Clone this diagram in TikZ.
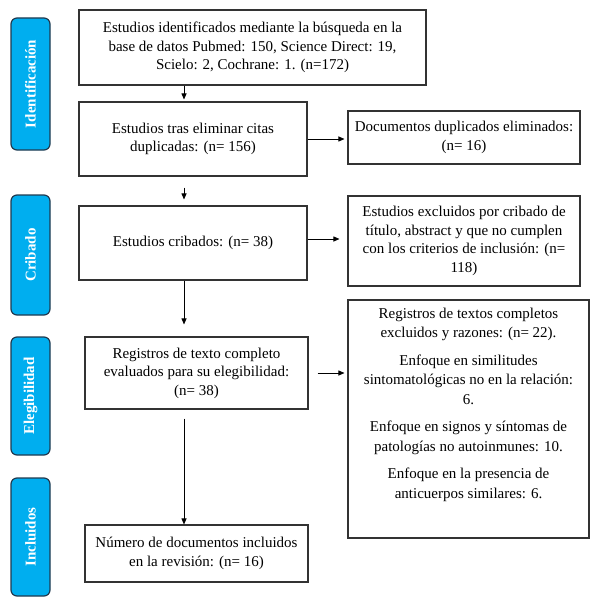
\documentclass[tikz,border=0pt]{standalone}
\usepackage{fontspec}
\setmainfont{Liberation Serif}
\usetikzlibrary{arrows.meta}
\definecolor{stagefill}{HTML}{00AEEF}
\definecolor{stageline}{HTML}{1F3A50}

\begin{document}
\begin{tikzpicture}[x=1pt, y=-1pt,
  every node/.style={font=\fontsize{15}{18.5}\selectfont, align=center, inner sep=0pt},
  box/.style={draw=black!80, line width=1.1pt},
  stage/.style={draw=stageline, fill=stagefill, rounded corners=6pt, line width=1.2pt,
    rotate=90, minimum height=39pt, text=white, font=\fontsize{15}{18}\selectfont\bfseries},
  flow/.style={-{Triangle[length=6pt,width=5pt]}, line width=0.9pt}]
  \useasboundingbox (0,0) rectangle (609,604);
  \node[stage, minimum width=132] (ident) at (30.5,84) {Identificación};
  \node[stage, minimum width=120] (crib) at (30.5,255) {Cribado};
  \node[stage, minimum width=118] (eleg) at (30.5,396) {Elegibilidad};
  \node[stage, minimum width=118] (incl) at (30.5,537) {Incluidos};

  \node[box, minimum width=347, minimum height=75] (found) at (252.5,47.5)
    {Estudios identificados mediante la búsqueda en la\\ base de datos Pubmed: 150, Science Direct: 19,\\ Scielo: 2, Cochrane: 1. (n=172)};
  \node[box, minimum width=228, minimum height=74] (nodup) at (193,139)
    {Estudios tras eliminar citas\\ duplicadas: (n= 156)};
  \node[box, minimum width=228, minimum height=74] (screened) at (193,243)
    {Estudios cribados: (n= 38)};
  \node[box, minimum width=223, minimum height=72] (fulltext) at (196.5,373)
    {Registros de texto completo\\ evaluados para su elegibilidad:\\ (n= 38)};
  \node[box, minimum width=223, minimum height=57] (included) at (196.5,553.5)
    {Número de documentos incluidos\\ en la revisión: (n= 16)};
  \node[box, minimum width=232, minimum height=53] (dups) at (464,137.5)
    {Documentos duplicados eliminados:\\ (n= 16)};
  \node[box, minimum width=232, minimum height=90] (excl) at (464,241)
    {Estudios excluidos por cribado de\\ título, abstract y que no cumplen\\ con los criterios de inclusión: (n=\\ 118)};
  \node[box, minimum width=241, minimum height=238] (reasons) at (468.5,419) {};
  \node[anchor=north, font=\fontsize{15}{19.5}\selectfont] (reasonstext) at ([yshift=-8pt]reasons.north)
    {Registros de textos completos\\ excluidos y razones: (n= 22).\\[8pt]
     Enfoque en similitudes\\ sintomatológicas no en la relación:\\ 6.\\[8pt]
     Enfoque en signos y síntomas de\\ patologías no autoinmunes: 10.\\[8pt]
     Enfoque en la presencia de\\ anticuerpos similares: 6.};

  \coordinate (spine) at (184,0);
  \draw[flow, shorten >=2pt] (found.south -| spine) -- (nodup.north -| spine);
  \draw[flow, shorten <=11pt, shorten >=6pt] (nodup.south -| spine) -- (screened.north -| spine);
  \draw[flow, shorten >=12pt] (screened.south -| spine) -- (fulltext.north -| spine);
  \draw[flow, shorten <=9pt] (fulltext.south -| spine) -- (included.north -| spine);
  \draw[flow, shorten >=3pt] (nodup.east) -- (nodup.east -| dups.west);
  \draw[flow, shorten >=8pt] ([yshift=4pt]screened.east) -- ([yshift=4pt]screened.east -| excl.west);
  \draw[flow, shorten <=9pt, shorten >=3pt] (fulltext.east) -- (fulltext.east -| reasons.west);
\end{tikzpicture}
\end{document}
